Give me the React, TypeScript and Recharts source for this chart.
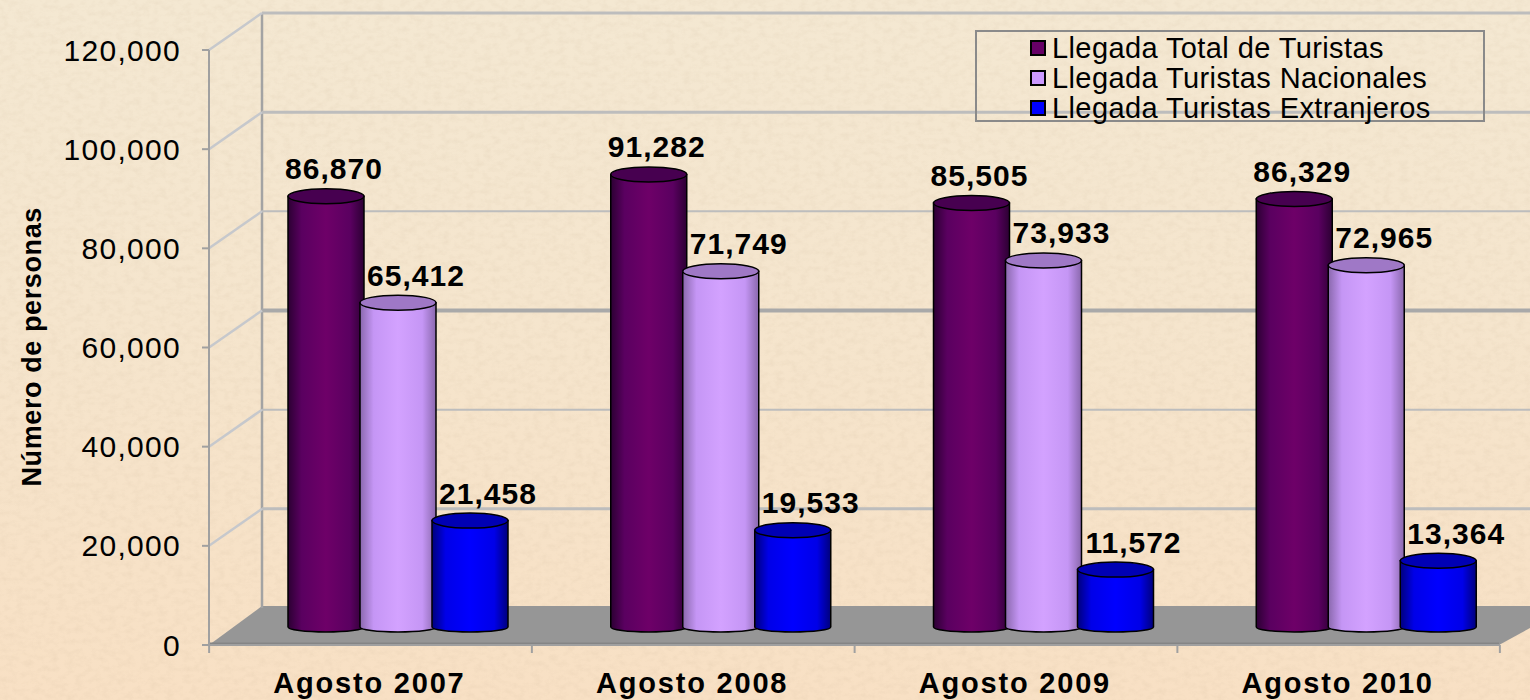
import { Bar, BarChart, CartesianGrid, LabelList, Legend, XAxis, YAxis } from "recharts";

const categories = ["Agosto 2007", "Agosto 2008", "Agosto 2009", "Agosto 2010"];
const totalTuristas = [86870, 91282, 85505, 86329];
const nacionales = [65412, 71749, 73933, 72965];
const extranjeros = [21458, 19533, 11572, 13364];
const yTicks = [0, 20000, 40000, 60000, 80000, 100000, 120000];
const seriesNames = [
  "Llegada Total de Turistas",
  "Llegada Turistas Nacionales",
  "Llegada Turistas Extranjeros",
];

const data = categories.map((name, i) => ({
  name,
  total: totalTuristas[i],
  nacionales: nacionales[i],
  extranjeros: extranjeros[i],
}));

const WIDTH = 1530;
const HEIGHT = 700;
const PLOT_LEFT = 209;
const PLOT_TOP = 50;
const PLOT_BOTTOM = 645;
const BAND = 322.5;
const DEPTH_X = 53;
const DEPTH_Y = 37;
const FONT = "'Liberation Sans', Arial, sans-serif";

// top to bottom row, same order as the ticks reversed
const wallWidths: Record<number, number> = { 0: 2, 1: 3, 2: 2, 3: 4, 4: 2, 5: 3, 6: 3 };

const swatches = ["#660066", "#cc99ff", "#0000ff"];
const caps = ["#470050", "#9f78c6", "#0000b4"];
const gradients = ["gradTotal", "gradNac", "gradExt"];

function WallLine(props: any) {
  const { y1, index } = props;
  const bx = PLOT_LEFT + DEPTH_X;
  const by = y1 - DEPTH_Y;
  const isFloor = y1 >= PLOT_BOTTOM - 1;
  return (
    <g key={`wall-${index}`}>
      {isFloor && (
        <g>
          <polygon
            points={`${PLOT_LEFT},${y1} ${bx},${by - 2} ${WIDTH + 40},${by - 2} ${PLOT_LEFT + BAND * 4},${y1}`}
            fill="#969696"
          />
          <line x1={PLOT_LEFT} y1={y1 - 1} x2={PLOT_LEFT + BAND * 4} y2={y1 - 1} stroke="#858585" strokeWidth={3} />
          <line
            x1={bx}
            y1={by}
            x2={bx}
            y2={PLOT_TOP - DEPTH_Y}
            stroke="#a3a3a3"
            strokeWidth={2.5}
          />
        </g>
      )}
      {!isFloor && (
        <line
          x1={bx}
          y1={by}
          x2={WIDTH}
          y2={by}
          stroke={index === 3 ? "#a9a9a9" : "#bdbdbd"}
          strokeWidth={wallWidths[index] ?? 2}
        />
      )}
      {!isFloor && (
        <line x1={PLOT_LEFT} y1={y1} x2={bx} y2={by} stroke="#c6c8cc" strokeWidth={2.5} />
      )}
    </g>
  );
}

function makeCylinder(seriesIndex: number) {
  return function Cylinder(props: any) {
    const { x, y, width, height } = props;
    const dx = 28;
    const lift = 18;
    const w = 76;
    const rx = w / 2;
    const ry = 7.5;
    const x0 = x + width / 2 + dx - rx;
    const x1 = x0 + w;
    const top = y - lift;
    const bottom = top + height;
    const body = `M${x0},${top} L${x0},${bottom} A${rx},5 0 0 0 ${x1},${bottom} L${x1},${top} Z`;
    return (
      <g>
        <path d={body} fill={`url(#${gradients[seriesIndex]})`} stroke="#000" strokeWidth={1.5} />
        <ellipse cx={x0 + rx} cy={top} rx={rx} ry={ry} fill={caps[seriesIndex]} stroke="#000" strokeWidth={1.5} />
      </g>
    );
  };
}

function makeValueLabel(offset: number) {
  return function ValueLabel(props: any) {
    const { x, y, width, value } = props;
    return (
      <text
        x={x + width / 2 + 28 + offset}
        y={y - 18 - 17}
        textAnchor="middle"
        fontFamily={FONT}
        fontSize={30}
        fontWeight={700}
        letterSpacing={1}
        fill="#000"
      >
        {Number(value).toLocaleString("en-US")}
      </text>
    );
  };
}

function CategoryTick(props: any) {
  const { x, y, payload, index } = props;
  return (
    <g>
      <line x1={x - BAND / 2} y1={PLOT_BOTTOM} x2={x - BAND / 2} y2={PLOT_BOTTOM + 8} stroke="#a0a0a0" strokeWidth={2} />
      {index === categories.length - 1 && (
        <line x1={x + BAND / 2} y1={PLOT_BOTTOM} x2={x + BAND / 2} y2={PLOT_BOTTOM + 8} stroke="#a0a0a0" strokeWidth={2} />
      )}
      <text x={x - 1} y={y + 40} textAnchor="middle" fontFamily={FONT} fontSize={29} fontWeight={700} letterSpacing={1.8} fill="#000">
        {payload.value}
      </text>
    </g>
  );
}

function LegendBox() {
  return (
    <div
      style={{
        boxSizing: "border-box",
        width: 510,
        height: 92,
        border: "2px solid #8a8a8a",
        paddingLeft: 53,
        paddingTop: 1,
        fontFamily: FONT,
        fontSize: 29,
        letterSpacing: 0.4,
        lineHeight: "30px",
        color: "#000",
        whiteSpace: "pre",
      }}
    >
      {seriesNames.map((name, i) => (
        <div key={name} style={{ display: "flex", alignItems: "center", height: 30 }}>
          <span
            style={{
              display: "inline-block",
              boxSizing: "border-box",
              width: 16,
              height: 16,
              marginRight: 6,
              background: swatches[i],
              border: "2px solid #000",
            }}
          />
          {name}
        </div>
      ))}
    </div>
  );
}

function gradientStops(edge: string, mid: string, center: string) {
  return (
    <>
      <stop offset="0%" stopColor={edge} />
      <stop offset="18%" stopColor={mid} />
      <stop offset="50%" stopColor={center} />
      <stop offset="82%" stopColor={mid} />
      <stop offset="100%" stopColor={edge} />
    </>
  );
}

export default function App() {
  return (
    <div
      style={{
        position: "absolute",
        left: 0,
        top: 0,
        width: WIDTH,
        height: HEIGHT,
        overflow: "hidden",
        background: "linear-gradient(180deg, #f4e8d2 0%, #f5e5cd 45%, #f8e0c4 100%)",
      }}
    >
      <svg width={WIDTH} height={HEIGHT} style={{ position: "absolute", left: 0, top: 0 }}>
        <defs>
          <filter id="paper">
            <feTurbulence type="fractalNoise" baseFrequency="0.12 0.18" numOctaves={4} seed={7} />
            <feColorMatrix
              type="matrix"
              values="0 0 0 0 0.55  0 0 0 0 0.42  0 0 0 0 0.28  0 0 0 0.7 -0.28"
            />
          </filter>
          <linearGradient id="gradTotal" x1="0" x2="1" y1="0" y2="0">
            {gradientStops("#2c0033", "#5a0060", "#6e0068")}
          </linearGradient>
          <linearGradient id="gradNac" x1="0" x2="1" y1="0" y2="0">
            {gradientStops("#8a68ad", "#c596f5", "#d3a2ff")}
          </linearGradient>
          <linearGradient id="gradExt" x1="0" x2="1" y1="0" y2="0">
            {gradientStops("#00007c", "#0000e8", "#0000ff")}
          </linearGradient>
        </defs>
        <rect width={WIDTH} height={HEIGHT} filter="url(#paper)" opacity={0.35} />
      </svg>
      <div style={{ position: "absolute", left: 0, top: 0 }}>
        <BarChart
          width={WIDTH}
          height={HEIGHT}
          data={data}
          margin={{ top: PLOT_TOP, right: 30, bottom: 0, left: 0 }}
          barSize={72}
          barGap={0}
        >
          <CartesianGrid horizontal={WallLine} vertical={false} />
          <XAxis
            dataKey="name"
            height={HEIGHT - PLOT_BOTTOM}
            tickLine={false}
            axisLine={{ stroke: "#a0a0a0", strokeWidth: 2 }}
            tick={CategoryTick}
            interval={0}
          />
          <YAxis
            width={PLOT_LEFT}
            domain={[0, 120000]}
            ticks={yTicks}
            tickSize={7}
            tickMargin={21}
            axisLine={{ stroke: "#a0a0a0", strokeWidth: 2 }}
            tickLine={{ stroke: "#a0a0a0", strokeWidth: 2 }}
            tick={{ fontFamily: FONT, fontSize: 30, fill: "#000", letterSpacing: 1.3 }}
            tickFormatter={(v: number) => v.toLocaleString("en-US")}
            label={{
              value: "Número de personas",
              angle: -90,
              position: "insideLeft",
              dx: 26,
              dy: 139,
              style: { fontFamily: FONT, fontSize: 27, fontWeight: 700, fill: "#000", letterSpacing: 0.6 },
            }}
          />
          <Legend
            layout="vertical"
            align="center"
            verticalAlign="middle"
            content={LegendBox}
            wrapperStyle={{ left: 975, top: 30, width: 510, height: 92 }}
          />
          <Bar dataKey="total" name={seriesNames[0]} fill={swatches[0]} isAnimationActive={false} shape={makeCylinder(0)}>
            <LabelList dataKey="total" content={makeValueLabel(8)} />
          </Bar>
          <Bar dataKey="nacionales" name={seriesNames[1]} fill={swatches[1]} isAnimationActive={false} shape={makeCylinder(1)}>
            <LabelList dataKey="nacionales" content={makeValueLabel(18)} />
          </Bar>
          <Bar dataKey="extranjeros" name={seriesNames[2]} fill={swatches[2]} isAnimationActive={false} shape={makeCylinder(2)}>
            <LabelList dataKey="extranjeros" content={makeValueLabel(18)} />
          </Bar>
        </BarChart>
      </div>
    </div>
  );
}
